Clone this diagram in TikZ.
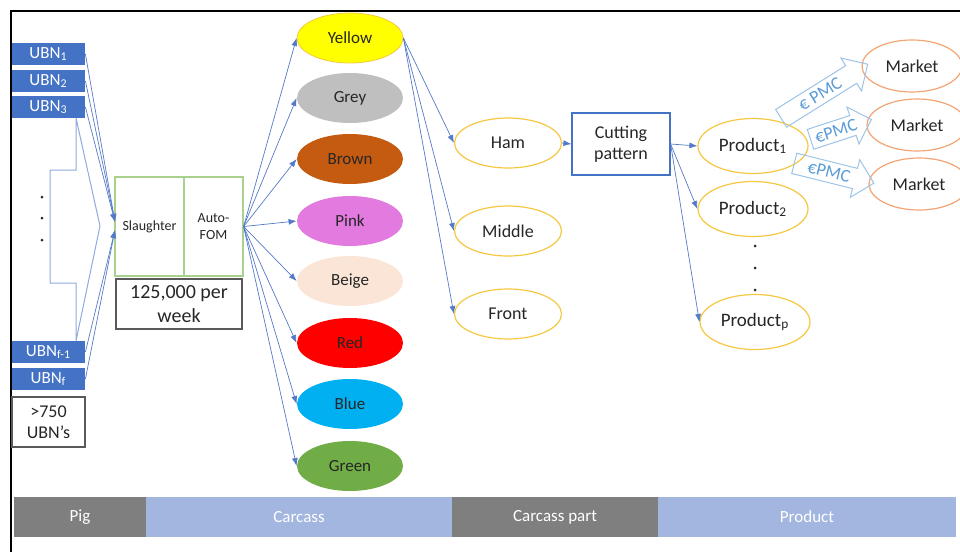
\documentclass[tikz,border=0pt]{standalone}
\usepackage{fontspec}
\setmainfont{Carlito}
\usetikzlibrary{shapes.geometric,shapes.arrows,arrows.meta}
\definecolor{textdark}{HTML}{262626}
\definecolor{ubnblue}{HTML}{4472C4}
\definecolor{linkblue}{HTML}{5479C8}
\definecolor{braceblue}{HTML}{8FAADC}
\definecolor{framegreen}{HTML}{A9D18E}
\definecolor{boxgray}{HTML}{595959}
\definecolor{partgold}{HTML}{F5C842}
\definecolor{marketorange}{HTML}{F2A474}
\definecolor{pmcblue}{HTML}{9DC3E6}
\definecolor{pmctext}{HTML}{5B9BD5}
\definecolor{bargray}{HTML}{7F7F7F}
\definecolor{barblue}{HTML}{A2B6DF}
\definecolor{cyellow}{HTML}{FFFF00}
\definecolor{cgrey}{HTML}{BFBFBF}
\definecolor{cbrown}{HTML}{C55A11}
\definecolor{cpink}{HTML}{E27AE0}
\definecolor{cbeige}{HTML}{FBE5D6}
\definecolor{cred}{HTML}{FF0000}
\definecolor{cblue}{HTML}{00B0F0}
\definecolor{cgreen}{HTML}{70AD47}
\begin{document}
\begin{tikzpicture}[x=0.5pt,y=-0.5pt,>={Latex[length=4pt,width=3pt]},
	  every node/.style={font=\fontsize{8.5}{10}\selectfont,text=textdark},
	  ubn/.style={fill=ubnblue,text=white,minimum width=36.5pt,minimum height=11pt,inner sep=0pt},
	  greybox/.style={draw=boxgray,line width=0.6pt,align=center,inner sep=0pt},
	  greenbox/.style={draw=framegreen,line width=0.6pt,align=center,inner sep=0pt,minimum height=49.5pt,font=\fontsize{7}{8.5}\selectfont},
	  colourell/.style={ellipse,minimum width=53pt,minimum height=25pt,inner sep=0pt},
	  partell/.style={ellipse,draw=partgold,line width=0.6pt,fill=white,minimum width=53.5pt,minimum height=25pt,inner sep=0pt,font=\fontsize{9}{10}\selectfont},
	  prodell/.style={partell,minimum width=55pt,minimum height=27.5pt,font=\fontsize{9.5}{11}\selectfont},
	  marketell/.style={ellipse,draw=marketorange,line width=0.6pt,minimum width=50pt,minimum height=26pt,inner sep=0pt,font=\fontsize{9}{10}\selectfont},
	  link/.style={->,draw=linkblue,line width=0.35pt},
	  pmc/.style={single arrow,draw=pmcblue,line width=0.5pt,text=pmctext,inner xsep=1pt,inner ysep=2pt,single arrow head extend=4.5pt,font=\fontsize{9}{10}\selectfont},
	  barseg/.style={minimum height=20pt,inner sep=0pt,text=white}]
	  \useasboundingbox (0,0) rectangle (960,552);
	  \draw[line width=0.9pt] (11,552) -- (11,11) -- (960,11);
	  \draw[braceblue,line width=0.5pt] (76,118) -- (76,170) -- (50,170) -- (50,283) -- (76,283) -- (76,341) -- (100,226) -- cycle;
	  \node[ubn] (ubn1) at (48.5,54) {UBN\textsubscript{1}};
	  \node[ubn] (ubn2) at (48.5,81) {UBN\textsubscript{2}};
	  \node[ubn] (ubn3) at (48.5,107) {UBN\textsubscript{3}};
	  \node[ubn] (ubnf1) at (48.5,352) {UBN\textsubscript{f-1}};
	  \node[ubn] (ubnf) at (48.5,379) {UBN\textsubscript{f}};
	  \node[greybox,minimum width=36.5pt,minimum height=25pt,font=\fontsize{9}{10.5}\selectfont] (farms) at (48.5,422) {>750\\UBN’s};
	  \fill[textdark] (42,197) circle (0.75pt);
	  \fill[textdark] (42,218) circle (0.75pt);
	  \fill[textdark] (42,240) circle (0.75pt);
	  \node[greenbox,minimum width=34.5pt] (slaughter) at (149.5,226.5) {Slaughter};
	  \node[greenbox,minimum width=29.5pt] (fom) at (213.5,226.5) {Auto-\\FOM};
	  \node[greybox,minimum width=63pt,minimum height=25pt,font=\fontsize{10}{12}\selectfont] (week) at (179,304) {125,000 per\\week};
	  \coordinate (sl1) at (115,222);
	  \coordinate (sl2) at (115,230);
	  \draw[link] (ubn1.east) -- (sl1);
	  \draw[link] (ubn2.east) -- (sl1);
	  \draw[link] (ubn3.east) -- (sl1);
	  \draw[link] (ubnf1.east) -- (sl2);
	  \draw[link] (ubnf.east) -- (sl2);
	  \node[colourell,fill=cyellow,draw=partgold] (yellow) at (350,38) {Yellow};
	  \node[colourell,fill=cgrey] (grey) at (350,98) {Grey};
	  \node[colourell,fill=cbrown] (brown) at (350,159) {Brown};
	  \node[colourell,fill=cpink] (pink) at (350,221) {Pink};
	  \node[colourell,fill=cbeige] (beige) at (350,281) {Beige};
	  \node[colourell,fill=cred] (red) at (350,343) {Red};
	  \node[colourell,fill=cblue] (blue) at (350,404) {Blue};
	  \node[colourell,fill=cgreen] (green) at (350,466) {Green};
	  \foreach \c in {yellow,grey,brown,pink,beige,red,blue,green}
	    \draw[link] (fom.east) -- (\c.west);
	  \node[partell] (ham) at (508,143) {Ham};
	  \node[partell] (middle) at (508,231) {Middle};
	  \node[partell] (front) at (508,314) {Front};
	  \foreach \p in {ham,middle,front}
	    \draw[link] (yellow.east) -- (\p.west);
	  \node[draw=ubnblue,line width=0.6pt,align=center,minimum width=49pt,minimum height=31pt,inner sep=0pt,font=\fontsize{9}{10.5}\selectfont] (cut) at (621,144) {Cutting\\pattern};
	  \draw[link] (ham.east) -- (cut.west);
	  \node[prodell] (prod1) at (753,146) {Product\textsubscript{1}};
	  \node[prodell] (prod2) at (753,209) {Product\textsubscript{2}};
	  \node[prodell] (prodp) at (755,322) {Product\textsubscript{p}};
	  \fill[textdark] (755,246) circle (0.75pt);
	  \fill[textdark] (755,268) circle (0.75pt);
	  \fill[textdark] (755,290) circle (0.75pt);
	  \foreach \p in {prod1,prod2,prodp}
	    \draw[link] (cut.east) -- (\p.west);
	  \node[marketell] (market1) at (912,66) {Market};
	  \node[marketell] (market2) at (917,125) {Market};
	  \node[marketell] (market3) at (919,184) {Market};
	  \node[pmc,rotate=32,minimum height=51pt] (pmc1) at (820,94) {€ PMC};
	  \node[pmc,rotate=18,minimum height=32pt] (pmc2) at (836,131) {€PMC};
	  \node[pmc,rotate=-14,minimum height=41pt] (pmc3) at (829,172) {€PMC};
	  \node[barseg,fill=bargray,minimum width=66pt] (pig) at (80,517) {Pig};
	  \node[barseg,fill=barblue,minimum width=153pt] (carcass) at (299,517) {Carcass};
	  \node[barseg,fill=bargray,minimum width=103pt] (part) at (555,517) {Carcass part};
	  \node[barseg,fill=barblue,minimum width=149pt] (product) at (807,517) {Product};
	\end{tikzpicture}
\end{document}
